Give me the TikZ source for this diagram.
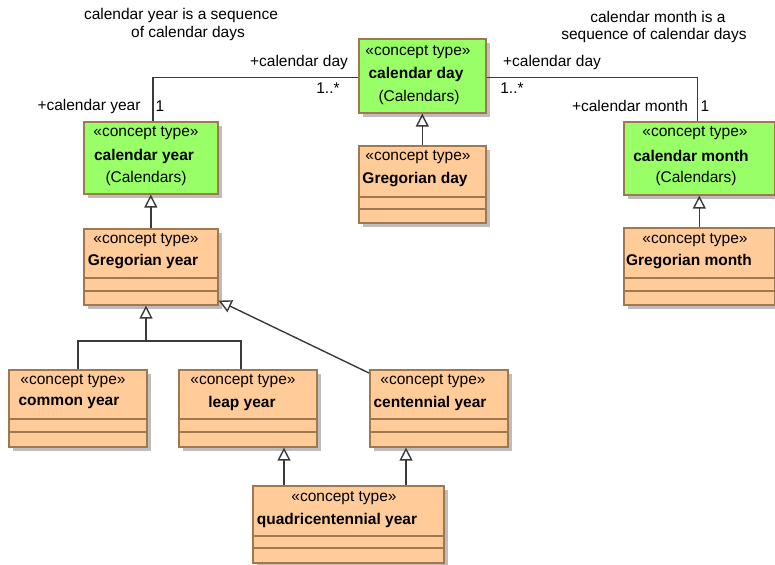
\documentclass[tikz,border=0pt]{standalone}
\usepackage{fontspec}
\setmainfont{Liberation Sans}
\usetikzlibrary{arrows.meta,shadows}
\definecolor{cgreen}{HTML}{99FF66}
\definecolor{corange}{HTML}{FFCC99}
\definecolor{cborder}{HTML}{A07850}
\definecolor{cshadow}{HTML}{BDBDBD}
\definecolor{cline}{HTML}{3A3A3A}
\begin{document}
\begin{tikzpicture}[x=1pt,y=-1pt,
 boxbase/.style={draw=cborder, line width=1.6pt, anchor=north west, inner sep=0pt,
   drop shadow={shadow xshift=4pt, shadow yshift=-4pt, fill=cshadow, opacity=1}},
 greenbox/.style={boxbase, fill=cgreen},
 orangebox/.style={boxbase, fill=corange},
 txt/.style={font=\fontsize{15.5}{18}\selectfont, inner sep=0pt, text=black},
 bold/.style={inner sep=0pt, text=black, font=\fontsize{15.5}{18}\selectfont\bfseries},
 assoc/.style={draw=cline, line width=1.4pt},
 gen/.style={draw=cline, line width=1.4pt, -{Triangle[length=13pt,width=13pt,fill=white,line width=1.4pt]}},
 comp/.style={draw=cborder, line width=1.3pt}
]
\useasboundingbox (0,0) rectangle (775,564);

% boxes
\node[greenbox, minimum width=127pt, minimum height=74pt] (cd) at (358,38) {};
\node[orangebox, minimum width=127pt, minimum height=77pt] (gd) at (358,145) {};
\node[greenbox, minimum width=134pt, minimum height=72pt] (cy) at (83,121) {};
\node[orangebox, minimum width=134pt, minimum height=76pt] (gy) at (83,228) {};
\node[greenbox, minimum width=151pt, minimum height=73pt] (cm) at (623,121) {};
\node[orangebox, minimum width=151pt, minimum height=77pt] (gm) at (623,227) {};
\node[orangebox, minimum width=138pt, minimum height=77pt] (coy) at (8,369) {};
\node[orangebox, minimum width=138pt, minimum height=77pt] (ly) at (178,369) {};
\node[orangebox, minimum width=138pt, minimum height=77pt] (cey) at (369,369) {};
\node[orangebox, minimum width=191pt, minimum height=77pt] (qy) at (252,485) {};

% compartments
\draw[comp] (gd.west |- 0,197) -- (gd.east |- 0,197);
\draw[comp] (gd.west |- 0,209) -- (gd.east |- 0,209);
\draw[comp] (gy.west |- 0,278) -- (gy.east |- 0,278);
\draw[comp] (gy.west |- 0,291) -- (gy.east |- 0,291);
\draw[comp] (gm.west |- 0,278) -- (gm.east |- 0,278);
\draw[comp] (gm.west |- 0,291) -- (gm.east |- 0,291);
\foreach \b in {coy,ly,cey}{
  \draw[comp] (\b.west |- 0,419) -- (\b.east |- 0,419);
  \draw[comp] (\b.west |- 0,432) -- (\b.east |- 0,432);
}
\draw[comp] (qy.west |- 0,536) -- (qy.east |- 0,536);
\draw[comp] (qy.west |- 0,548) -- (qy.east |- 0,548);

% box texts
\node[txt] (cdst) at (418,52) {«concept type»};
\node[bold] (cdnm) at (416,74) {calendar day};
\node[txt] (cdpk) at (419,97) {(Calendars)};
\node[txt] (gdst) at (418,157) {«concept type»};
\node[bold] (gdnm) at (415,180) {Gregorian day};
\node[txt] (cyst) at (146,133) {«concept type»};
\node[bold] (cynm) at (144,156) {calendar year};
\node[txt] (cypk) at (146,178) {(Calendars)};
\node[txt] (gyst) at (146,240) {«concept type»};
\node[bold] (gynm) at (143,262) {Gregorian year};
\node[txt] (cmst) at (695,133) {«concept type»};
\node[bold] (cmnm) at (691,156) {calendar month};
\node[txt] (cmpk) at (696,178) {(Calendars)};
\node[txt] (gmst) at (695,240) {«concept type»};
\node[bold] (gmnm) at (689,262) {Gregorian month};
\node[txt] (coyst) at (73,381) {«concept type»};
\node[bold] (coynm) at (69,403) {common year};
\node[txt] (lyst) at (243,381) {«concept type»};
\node[bold] (lynm) at (242,403) {leap year};
\node[txt] (ceyst) at (433,381) {«concept type»};
\node[bold] (ceynm) at (430,403) {centennial year};
\node[txt] (qyst) at (344,498) {«concept type»};
\node[bold] (qynm) at (337,520) {quadricentennial year};

% free labels
\node[txt] (note1a) at (181,15) {calendar year is a sequence};
\node[txt] (note1b) at (188,33) {of calendar days};
\node[txt] (note2a) at (658,17) {calendar month is a};
\node[txt] (note2b) at (654,35) {sequence of calendar days};

% associations
\draw[assoc] ([xshift=2pt]cy.north) |- ([yshift=-2pt]cd.west);
\draw[assoc] ([yshift=-2pt]cd.east) -| ([xshift=-2pt]cm.north);
\node[txt] (lcd1) at (299,62) {+calendar day};
\node[txt] (m1) at (328,88) {1..*};
\node[txt] (lcy) at (89,106) {+calendar year};
\node[txt] (m2) at (160,106) {1};
\node[txt] (lcd2) at (552,62) {+calendar day};
\node[txt] (m3) at (512,88) {1..*};
\node[txt] (lcm) at (630,106) {+calendar month};
\node[txt] (m4) at (705,106) {1};

% generalizations
\draw[gen] (gd.north) -- (cd.south);
\draw[gen] (gy.north) -- (cy.south);
\draw[gen] (gm.north) -- (cm.south);
\coordinate (xa) at (78,0);
\coordinate (xb) at (241,0);
\coordinate (xj) at (146,0);
\coordinate (yj) at (0,341);
\coordinate (j) at (xj |- yj);
\draw[assoc] (coy.north -| xa) |- (j) -| (ly.north -| xb);
\draw[gen] (j) -- (gy.south -| xj);
\draw[gen] ([yshift=-4pt]cey.north west) -- ([yshift=5pt]gy.south east);
\coordinate (xq1) at (284,0);
\coordinate (xq2) at (406,0);
\draw[gen] (qy.north -| xq1) -- (ly.south -| xq1);
\draw[gen] (qy.north -| xq2) -- (cey.south -| xq2);
\end{tikzpicture}
\end{document}
